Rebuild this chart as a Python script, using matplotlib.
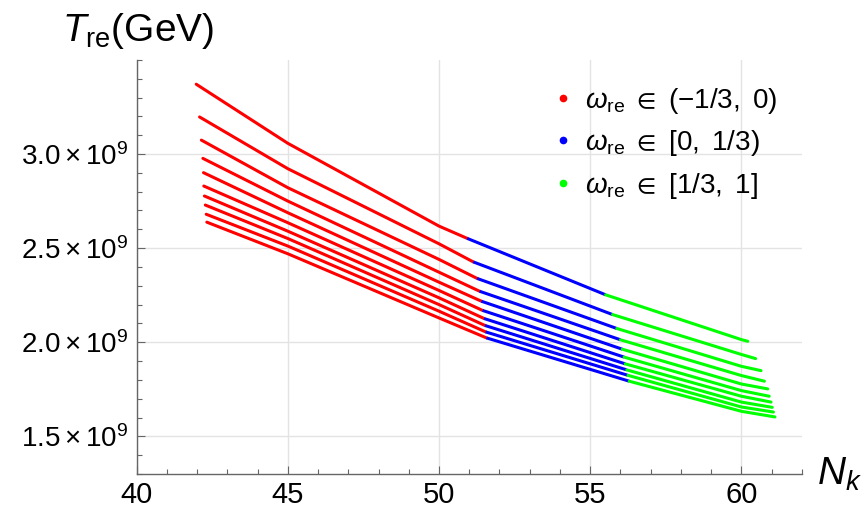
import numpy as np
import matplotlib
matplotlib.use('Agg')
import matplotlib.pyplot as plt
from matplotlib.lines import Line2D
from matplotlib.ticker import MultipleLocator

plt.rcParams['font.family'] = ['Liberation Sans', 'DejaVu Sans']
plt.rcParams['mathtext.fontset'] = 'custom'
plt.rcParams['mathtext.rm'] = 'Liberation Sans'
plt.rcParams['mathtext.it'] = 'Liberation Sans:italic'
plt.rcParams['mathtext.fallback'] = 'stixsans'

# values, T in units of 1e9 GeV
n_start = [41.97, 42.08, 42.14, 42.19, 42.21, 42.22, 42.24, 42.27, 42.30, 42.32]
t_start = [3.371, 3.197, 3.074, 2.977, 2.901, 2.830, 2.777, 2.729, 2.680, 2.638]
t_45 = [3.057, 2.922, 2.821, 2.750, 2.688, 2.635, 2.590, 2.551, 2.511, 2.470]
t_50 = [2.617, 2.523, 2.440, 2.372, 2.319, 2.275, 2.236, 2.200, 2.165, 2.129]
# red -> blue switch (w_re = 0)
n_rb = [50.93, 51.13, 51.26, 51.34, 51.40, 51.44, 51.49, 51.52, 51.54, 51.57]
t_rb = [2.552, 2.427, 2.339, 2.271, 2.218, 2.169, 2.126, 2.089, 2.055, 2.023]
# blue -> green switch (w_re = 1/3)
n_bg = [55.51, 55.74, 55.88, 56.00, 56.06, 56.12, 56.16, 56.21, 56.25, 56.29]
t_bg = [2.252, 2.147, 2.073, 2.013, 1.963, 1.921, 1.885, 1.853, 1.824, 1.793]
t_60 = [2.014, 1.935, 1.872, 1.823, 1.778, 1.743, 1.713, 1.682, 1.656, 1.633]
n_end = [60.21, 60.47, 60.65, 60.76, 60.87, 60.92, 60.98, 61.02, 61.06, 61.11]
t_end = [2.005, 1.913, 1.849, 1.793, 1.752, 1.713, 1.682, 1.654, 1.629, 1.603]

x_ticks = [40, 45, 50, 55, 60]
y_ticks = [1.5e9, 2.0e9, 2.5e9, 3.0e9]
y_ticklabels = [r'$1.5\times10^{9}$', r'$2.0\times10^{9}$', r'$2.5\times10^{9}$', r'$3.0\times10^{9}$']
legend_labels = [r'(-1/3,\ 0)', r'[0,\ 1/3)', r'[1/3,\ 1]']
colors = ['#ff0000', '#0000ff', '#00ff00']

fig = plt.figure(figsize=(8.65, 5.08), dpi=100)
ax = fig.add_axes([0.158, 0.067, 0.769, 0.815])

lw = 2.2
for i in range(len(n_start)):
    xr = [n_start[i], 45, 50, n_rb[i]]
    yr = np.array([t_start[i], t_45[i], t_50[i], t_rb[i]]) * 1e9
    xb = [n_rb[i], n_bg[i]]
    yb = np.array([t_rb[i], t_bg[i]]) * 1e9
    xg = [n_bg[i], 60, n_end[i]]
    yg = np.array([t_bg[i], t_60[i], t_end[i]]) * 1e9
    ax.plot(xr, yr, color=colors[0], lw=lw, solid_capstyle='round', solid_joinstyle='round')
    ax.plot(xb, yb, color=colors[1], lw=lw, solid_capstyle='butt')
    ax.plot(xg, yg, color=colors[2], lw=lw, solid_capstyle='round', solid_joinstyle='round')

ax.set_xlim(40, 62)
ax.set_ylim(1.3e9, 3.5e9)
ax.set_xticks(x_ticks)
ax.set_yticks(y_ticks)
ax.set_yticklabels(y_ticklabels)
ax.xaxis.set_minor_locator(MultipleLocator(1))
ax.yaxis.set_minor_locator(MultipleLocator(0.1e9))

ax.grid(True, which='major', color='#e3e3e3', lw=1.0)
ax.set_axisbelow(True)
for s in ['top', 'right']:
    ax.spines[s].set_visible(False)
for s in ['left', 'bottom']:
    ax.spines[s].set_color('#666666')
    ax.spines[s].set_linewidth(1.0)

ax.tick_params(which='both', direction='in', color='#666666', width=0.8)
ax.tick_params(which='major', length=6)
ax.tick_params(which='minor', length=3.5)
ax.tick_params(axis='x', labelsize=21, pad=5)
ax.tick_params(axis='y', labelsize=20, pad=6)

fig.text(0.072, 0.92, r'$T_{\mathrm{re}}\mathrm{(GeV)}$', fontsize=28, ha='left', va='baseline')
fig.text(0.944, 0.045, r'$N_k$', fontsize=28, ha='left', va='baseline')

handles = [Line2D([], [], ls='none', marker='o', ms=4.5, color=c) for c in colors]
labels = [r'$\omega_{\mathrm{re}}\ \in\ \mathrm{' + l + '}$' for l in legend_labels]
ax.legend(handles, labels, loc='upper left', bbox_to_anchor=(0.612, 0.965),
          frameon=False, fontsize=20, handlelength=0.6, handletextpad=0.5,
          labelspacing=0.45, borderaxespad=0)

plt.savefig('out.png', dpi=100)
